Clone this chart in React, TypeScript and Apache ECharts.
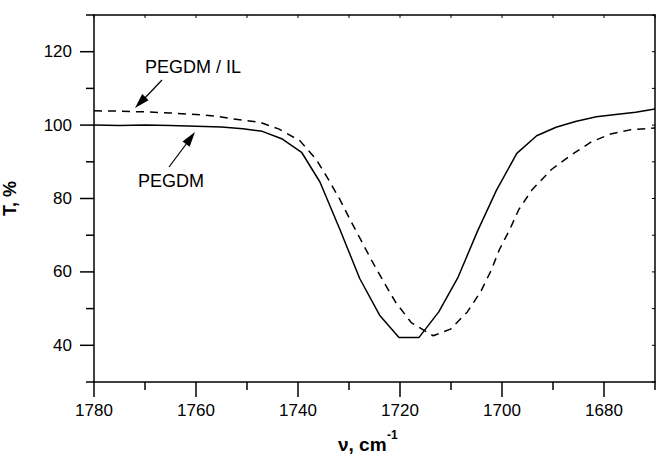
import React, { useEffect, useRef } from "react";
import * as echarts from "echarts";

// PEGDM (solid)
const pegdmNu = [1780, 1775, 1770, 1765, 1760, 1755, 1750.8, 1747, 1743.2, 1739.3, 1735.7, 1731.8, 1727.9, 1724.0, 1720.2, 1716.3, 1712.4, 1708.6, 1704.8, 1701.1, 1697.1, 1693.2, 1689.4, 1685.6, 1681.5, 1677.7, 1673.8, 1670];
const pegdmT = [100.0, 99.9, 100.0, 99.9, 99.7, 99.5, 99.0, 98.3, 96.3, 92.6, 84.5, 71.6, 58.2, 48.2, 42.1, 42.1, 49.1, 58.6, 71.1, 82.2, 92.3, 97.1, 99.4, 101.0, 102.3, 102.9, 103.5, 104.4];

// PEGDM / IL (dashed)
const ilNu = [1780, 1775, 1770, 1765, 1760, 1756, 1752.8, 1747.5, 1743.7, 1739.6, 1736.4, 1733.9, 1731.7, 1729.7, 1727.6, 1725.4, 1723.2, 1720.9, 1717.8, 1713.5, 1710.1, 1706.8, 1704.1, 1702.1, 1700.5, 1698.5, 1696.7, 1694.1, 1690.3, 1686.4, 1682.5, 1678.7, 1674.9, 1670];
const ilT = [103.9, 103.8, 103.6, 103.3, 102.9, 102.4, 101.7, 100.8, 98.9, 95.7, 90.6, 84.9, 79.5, 74.0, 68.5, 62.7, 57.3, 51.8, 46.2, 42.6, 44.4, 49.1, 54.8, 60.5, 66.1, 71.5, 77.0, 82.4, 87.9, 91.9, 95.4, 97.6, 98.7, 99.2];

// tick values
const xMajor = [1780, 1760, 1740, 1720, 1700, 1680];
const xMinor = [1770, 1750, 1730, 1710, 1690, 1670];
const yMajor = [40, 60, 80, 100, 120];
const yMinor = [30, 50, 70, 90, 110, 130];

const X_MIN = 1670, X_MAX = 1780, Y_MIN = 30, Y_MAX = 130;
const FONT = "'Liberation Sans', Arial, sans-serif";

// kinds: 0 bottom major, 1 bottom minor, 2 left major, 3 left minor, 4 top, 5 right
const tickData: number[][] = [
  ...xMajor.map((v) => [v, Y_MIN, 0]),
  ...xMinor.map((v) => [v, Y_MIN, 1]),
  ...yMajor.map((v) => [X_MAX, v, 2]),
  ...yMinor.map((v) => [X_MAX, v, 3]),
  ...[...xMajor, ...xMinor].map((v) => [v, Y_MAX, 4]),
  ...[...yMajor, ...yMinor].map((v) => [X_MIN, v, 5]),
];

export default function App() {
  const ref = useRef<HTMLDivElement>(null);
  useEffect(() => {
    const chart = echarts.init(ref.current!, null, { renderer: "svg" });
    const baseX = { type: "value", min: X_MIN, max: X_MAX, interval: 10, inverse: true, splitLine: { show: false }, axisTick: { show: false } };
    const baseY = { type: "value", min: Y_MIN, max: Y_MAX, interval: 10, splitLine: { show: false }, axisTick: { show: false } };
    chart.setOption({
      animation: false,
      backgroundColor: "#fff",
      grid: { left: 94, top: 15, right: 1, bottom: 72, containLabel: false, outerBoundsMode: "none" },
      xAxis: [
        {
          ...baseX, position: "bottom",
          axisLine: { show: true, lineStyle: { color: "#000", width: 1.5 } },
          axisLabel: {
            margin: 20, color: "#000", fontSize: 17, fontFamily: FONT,
            formatter: (v: number) => (xMajor.includes(v) ? String(v) : ""),
          },
        },
        {
          ...baseX, position: "top",
          axisLine: { show: true, lineStyle: { color: "#000", width: 1.5 } },
          axisLabel: { show: false },
        },
      ],
      yAxis: [
        {
          ...baseY, position: "left",
          axisLine: { show: true, lineStyle: { color: "#000", width: 1.5 } },
          axisLabel: {
            margin: 22, color: "#000", fontSize: 17, fontFamily: FONT,
            formatter: (v: number) => (yMajor.includes(v) ? String(v) : ""),
          },
          name: "T, %", nameLocation: "middle", nameRotate: 90, nameGap: 75,
          nameTextStyle: { color: "#000", fontSize: 18, fontWeight: "bold", fontFamily: FONT },
        },
        {
          ...baseY, position: "right",
          axisLine: { show: true, lineStyle: { color: "#000", width: 1.5 } },
          axisLabel: { show: false },
        },
      ],
      series: [
        {
          name: "PEGDM", type: "line", xAxisIndex: 0, yAxisIndex: 0,
          data: pegdmNu.map((v, i) => [v, pegdmT[i]]),
          showSymbol: false, symbol: "none",
          lineStyle: { color: "#000", width: 1.5, type: "solid" },
        },
        {
          name: "PEGDM / IL", type: "line", xAxisIndex: 0, yAxisIndex: 0,
          data: ilNu.map((v, i) => [v, ilT[i]]),
          showSymbol: false, symbol: "none",
          lineStyle: { color: "#000", width: 1.5, type: [8, 6] },
        },
        {
          name: "ticks", type: "custom", xAxisIndex: 0, yAxisIndex: 0,
          silent: true, clip: false,
          data: tickData,
          renderItem: (params: any, api: any) => {
            const p = api.coord([api.value(0), api.value(1)]);
            const k = api.value(2);
            let dx = 0, dy = 0, w = 1.5;
            if (k === 0) dy = 15;
            else if (k === 1) dy = 8;
            else if (k === 2) dx = -14;
            else if (k === 3) dx = -8;
            else if (k === 4) { dy = 3; w = 1; }
            else { dx = -3; w = 1; }
            return {
              type: "line",
              shape: { x1: p[0], y1: p[1], x2: p[0] + dx, y2: p[1] + dy },
              style: { stroke: "#000", lineWidth: w },
            };
          },
        },
      ],
      graphic: [
        { type: "text", left: 338, top: 435, style: { text: "ν, cm", fill: "#000", font: `bold 19px ${FONT}` } },
        { type: "text", left: 387, top: 429, style: { text: "-1", fill: "#000", font: `bold 12px ${FONT}` } },
        { type: "text", left: 145, top: 58, style: { text: "PEGDM / IL", fill: "#000", font: `18px ${FONT}` } },
        { type: "text", left: 138, top: 172, style: { text: "PEGDM", fill: "#000", font: `18px ${FONT}` } },
        { type: "line", shape: { x1: 162, y1: 80, x2: 143, y2: 100 }, style: { stroke: "#000", lineWidth: 1.2 } },
        { type: "polygon", shape: { points: [[135, 108], [148.6, 100.3], [142.2, 94.1]] }, style: { fill: "#000" } },
        { type: "line", shape: { x1: 169, y1: 167, x2: 187, y2: 143 }, style: { stroke: "#000", lineWidth: 1.2 } },
        { type: "polygon", shape: { points: [[195, 132], [189.7, 146.7], [182.5, 141.4]] }, style: { fill: "#000" } },
      ],
    });
    return () => chart.dispose();
  }, []);
  return <div ref={ref} style={{ position: "fixed", left: 0, top: 0, width: 656, height: 454 }} />;
}
